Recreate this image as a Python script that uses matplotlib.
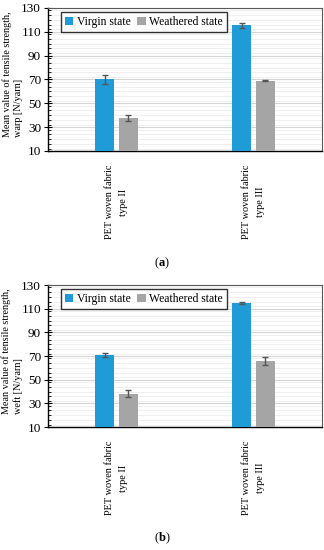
import matplotlib
matplotlib.use("Agg")
import matplotlib.pyplot as plt
import matplotlib.transforms as mtransforms
import numpy as np
from matplotlib.ticker import MultipleLocator

plt.rcParams['font.family'] = ['Liberation Serif', 'DejaVu Serif']
plt.rcParams['mathtext.fontset'] = 'custom'
plt.rcParams['mathtext.bf'] = 'Liberation Serif:bold'
plt.rcParams['mathtext.rm'] = 'Liberation Serif'

categories = ["PET woven fabric\ntype II", "PET woven fabric\ntype III"]
series_names = ["Virgin state", "Weathered state"]

warp_virgin = [70, 115.5]
warp_virgin_err = [4, 2]
warp_weathered = [38, 69]
warp_weathered_err = [2.5, 0.5]

weft_virgin = [71, 115]
weft_virgin_err = [1.5, 1]
weft_weathered = [38, 66]
weft_weathered_err = [3, 3.5]

ylabels = ["Mean value of tensile strength,\nwarp [N/yarn]",
           "Mean value of tensile strength,\nweft [N/yarn]"]
captions = ["a", "b"]
yticks = [10, 30, 50, 70, 90, 110, 130]

blue = "#1f9bd7"
gray = "#a5a5a5"
errc = "#555555"

fig = plt.figure(figsize=(3.24, 5.5), dpi=100)
ax_boxes = [[0.148, 0.7255, 0.846, 0.26], [0.148, 0.2236, 0.846, 0.258]]
cap_y = [0.522, 0.022]

data = [(warp_virgin, warp_virgin_err, warp_weathered, warp_weathered_err),
        (weft_virgin, weft_virgin_err, weft_weathered, weft_weathered_err)]

shift = mtransforms.ScaledTranslation(4 / 100, 0, fig.dpi_scale_trans)

for i, (v, ve, w, we) in enumerate(data):
    ax = fig.add_axes(ax_boxes[i])
    x = np.arange(len(categories))
    bw = 0.14
    off = 0.087
    ax.bar(x - off, v, bw, color=blue, label=series_names[0], zorder=3)
    ax.bar(x + off, w, bw, color=gray, label=series_names[1], zorder=3)
    ax.errorbar(x - off, v, yerr=ve, fmt='none', ecolor=errc, elinewidth=1,
                capsize=2.5, capthick=1, zorder=4)
    ax.errorbar(x + off, w, yerr=we, fmt='none', ecolor=errc, elinewidth=1,
                capsize=2.5, capthick=1, zorder=4)
    ax.set_xlim(-0.5, 1.5)
    ax.set_ylim(10, 130)
    ax.set_yticks(yticks)
    ax.yaxis.set_minor_locator(MultipleLocator(4))
    ax.grid(axis='y', which='major', color='#d4d4d4', lw=0.8, zorder=0)
    ax.grid(axis='y', which='minor', color='#ececec', lw=0.6, zorder=0)
    ax.set_axisbelow(True)
    ax.tick_params(axis='y', which='major', direction='inout', length=6,
                   width=0.8, labelsize=9.5, pad=2)
    ax.tick_params(axis='y', which='minor', direction='in', length=2.5, width=0.6)
    ax.set_xticks(x)
    ax.set_xticklabels(categories, rotation=90, fontsize=7.4, va='top',
                       ha='center', multialignment='center', linespacing=1.7)
    for lab in ax.get_xticklabels():
        lab.set_transform(lab.get_transform() + shift)
    ax.tick_params(axis='x', length=0, pad=10)
    for s in ['left', 'bottom']:
        ax.spines[s].set_color('black')
        ax.spines[s].set_linewidth(1.0)
    for s in ['top', 'right']:
        ax.spines[s].set_color('#595959')
        ax.spines[s].set_linewidth(0.8)
    ax.set_ylabel(ylabels[i], fontsize=7.3, linespacing=1.3,
                  multialignment='left')
    ax.yaxis.set_label_coords(-0.092, 0.535)
    leg = ax.legend(loc='upper left', bbox_to_anchor=(0.047, 0.972), ncol=2,
                    fontsize=8.4, frameon=True, fancybox=False, handlelength=0.7,
                    handleheight=0.7, handletextpad=0.3, columnspacing=0.6,
                    borderpad=0.35, borderaxespad=0)
    leg.get_frame().set_edgecolor('black')
    leg.get_frame().set_linewidth(1.0)
    fig.text(0.5, cap_y[i], r"($\mathbf{%s}$)" % captions[i], ha='center',
             va='center', fontsize=9)

fig.savefig("out.png", dpi=100)
